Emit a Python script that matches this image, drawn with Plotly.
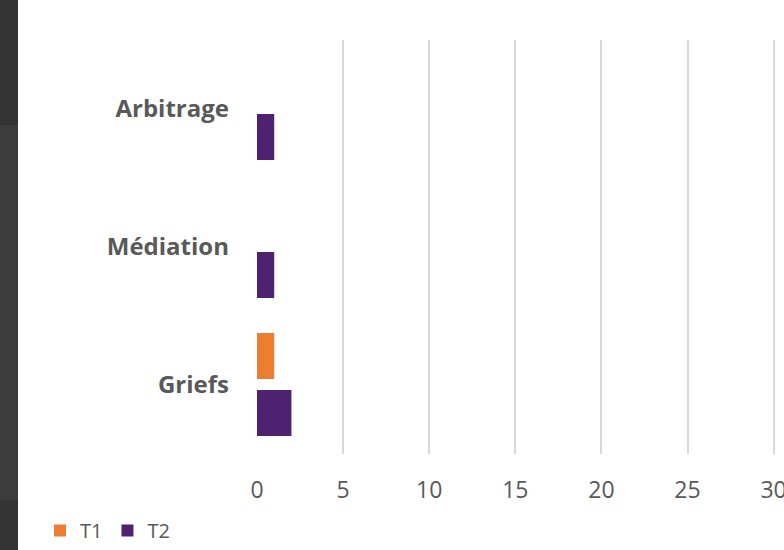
import plotly.graph_objects as go

categories = ["Griefs", "Médiation", "Arbitrage"]
t1_values = [1, 0, 0]
t2_values = [2, 1, 1]
x_ticks = [0, 5, 10, 15, 20, 25, 30]

W, H = 784, 550
plot_left, plot_right = 257, 784
plot_top, plot_bottom = 39.5, 453.5
px_per_unit = 17.22

fig = go.Figure()
# T2 first so that T1 sits above T2 within each group (as in the reference)
fig.add_trace(go.Bar(y=categories, x=t2_values, name="T2", orientation="h",
                     marker=dict(color="#4E2171", line=dict(width=0))))
fig.add_trace(go.Bar(y=categories, x=t1_values, name="T1", orientation="h",
                     marker=dict(color="#ED7D31", line=dict(width=0))))

text_color = "#595959"
font_family = "Open Sans"

fig.update_layout(
    width=W, height=H,
    margin=dict(l=0, r=0, t=0, b=0, autoexpand=False),
    paper_bgcolor="white", plot_bgcolor="white",
    barmode="group", bargap=0.174, bargroupgap=0.193,
    showlegend=True,
    legend=dict(orientation="h", traceorder="reversed",
                x=(54 - 14) / W, xanchor="left",
                y=1 - 530.5 / H, yanchor="middle",
                font=dict(family=font_family, size=20, color=text_color),
                bgcolor="rgba(0,0,0,0)"),
    font=dict(family=font_family, color=text_color),
    xaxis=dict(domain=[plot_left / W, plot_right / W],
               range=[0, (plot_right - plot_left) / px_per_unit],
               tickvals=x_ticks, ticktext=[str(v) for v in x_ticks],
               showgrid=True, gridcolor="#D9D9D9", gridwidth=1.5,
               zeroline=False, showline=False, ticks="",
               automargin=False, ticklabeloverflow="allow",
               ticklabelstandoff=20,
               tickfont=dict(family=font_family, size=23, color=text_color)),
    yaxis=dict(domain=[1 - plot_bottom / H, 1 - plot_top / H],
               categoryorder="array", categoryarray=categories,
               range=[-0.5, 2.5], automargin=False,
               showgrid=False, zeroline=False, showline=False, ticks="",
               ticklabelstandoff=27,
               tickfont=dict(family=font_family, size=24, color=text_color,
                             weight="bold")),
)

# dark strip at the left edge of the screenshot
fig.add_shape(type="rect", xref="paper", yref="paper", x0=0, x1=18 / W,
              y0=1 - 125 / H, y1=1, fillcolor="#343434", line_width=0, layer="above")
fig.add_shape(type="rect", xref="paper", yref="paper", x0=0, x1=18 / W,
              y0=1 - 500 / H, y1=1 - 125 / H, fillcolor="#3C3C3C", line_width=0, layer="above")
fig.add_shape(type="rect", xref="paper", yref="paper", x0=0, x1=18 / W,
              y0=0, y1=1 - 500 / H, fillcolor="#343434", line_width=0, layer="above")

fig.write_html("out.html",
               config={"displayModeBar": False},
               post_script="document.body.style.margin='0';"
                           "document.body.style.padding='0';"
                           "document.body.style.overflow='hidden';"
                           "window.scrollTo(0,0);")
